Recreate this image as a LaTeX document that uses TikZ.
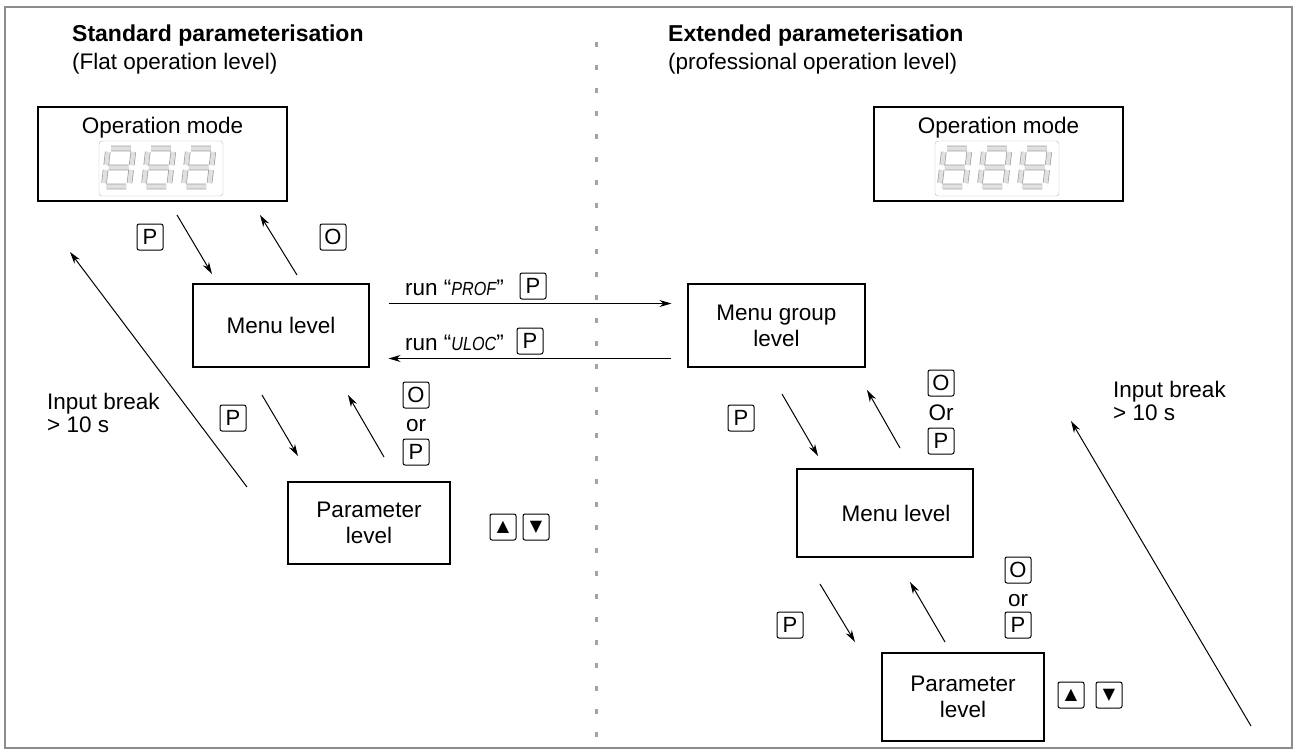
\documentclass[tikz,border=0pt]{standalone}
\usepackage{fontspec}
\setmainfont{Liberation Sans}
\newfontfamily\symfont{DejaVu Sans}
\usepackage{tikz}
\usetikzlibrary{positioning, calc, arrows.meta}
\definecolor{framegray}{rgb}{0.55, 0.55, 0.55}
\definecolor{seggray}{rgb}{0.62, 0.62, 0.62}
\definecolor{segfill}{rgb}{0.88, 0.88, 0.88}

%% one digit of the display
\newcommand{\segdigit}[2]{%
	\begin{scope}[shift={(#1,#2)}, xslant=0.12]
		\draw[seggray, line width=0.7pt, double=segfill, double distance=4.2pt]
			(5.5,2.5) -- (25,2.5) (5.5,21.5) -- (25,21.5) (5.5,40.5) -- (25,40.5)
			(2.5,6) -- (2.5,19) (2.5,24) -- (2.5,37)
			(28,6) -- (28,19) (28,24) -- (28,37);
	\end{scope}}
%% display code as printed by the device
\newcommand{\devcode}[1]{\scalebox{0.85}[1]{\itshape\fontsize{19}{19}\selectfont #1}}

\begin{document}
\begin{tikzpicture}[x=1pt, y=-1pt, every node/.style={inner sep=0pt}]
	\tikzstyle{levelbox}=[draw=black, line width=1.1pt, align=center, font=\fontsize{22.5}{26}\selectfont]
	\tikzstyle{keybox}=[draw=black, line width=1pt, rounded corners=2pt, minimum width=26pt, minimum height=26pt, font=\fontsize{22}{22}\selectfont]
	\tikzstyle{flow}=[-{Stealth[length=12pt, width=7pt]}, line width=1pt]
	\tikzstyle{lbl}=[font=\fontsize{22.5}{24}\selectfont, align=left]

	\useasboundingbox (0,0) rectangle (1298,752);
	\draw[framegray, line width=1.5pt] (5,7) rectangle (1292,748);

	%% headings
	\node[anchor=base west, font=\bfseries\fontsize{23}{26}\selectfont] (stdT) at (72,42) {Standard parameterisation};
	\node[anchor=base west, font=\fontsize{22.5}{24}\selectfont] (stdS) at (72,70) {(Flat operation level)};
	\node[anchor=base west, font=\bfseries\fontsize{23}{26}\selectfont] (extT) at (668,42) {Extended parameterisation};
	\node[anchor=base west, font=\fontsize{22.5}{24}\selectfont] (extS) at (668,70) {(professional operation level)};

	%% separator
	\draw[framegray!80, line width=3pt, dash pattern=on 5pt off 18pt] (596,42) -- (596,748);

	%% standard side
	\node[levelbox, minimum width=249pt, minimum height=94pt] (opL) at (162.5,154) {};
	\node[anchor=base, font=\fontsize{22.5}{25}\selectfont] (opLt) at (162.5,133) {Operation mode};
	\draw[seggray!70, rounded corners=3pt] (99,141) rectangle (223,196);
	\segdigit{106}{146}
	\segdigit{146}{146}
	\segdigit{186}{146}

	\node[levelbox, minimum width=176pt, minimum height=83pt] (menuL) at (281,325.5) {Menu level};
	\node[levelbox, minimum width=162pt, minimum height=82pt] (parL) at (369,523) {Parameter\\level};

	\node[keybox] (kP1) at (150,237) {P};
	\node[keybox] (kO1) at (333,237) {O};
	\draw[flow] (177,215) coordinate (d1s) -- (212,274) coordinate (d1e);
	\draw[flow] (297,275) coordinate (u1s) -- (260,215) coordinate (u1e);

	\node[keybox] (kP2) at (233,418) {P};
	\node[keybox] (kO2) at (416,395) {O};
	\node[lbl, anchor=base] (orL) at (416,431) {or};
	\node[keybox] (kP3) at (416,452) {P};
	\draw[flow] (262,395) coordinate (d2s) -- (298,456) coordinate (d2e);
	\draw[flow] (384,457) coordinate (u2s) -- (348,395) coordinate (u2e);

	\node[keybox] (upL) at (503,527) {\symfont\fontsize{16}{16}\selectfont ▲};
	\node[keybox, right=6pt of upL] (dnL) {\symfont\fontsize{16}{16}\selectfont ▼};

	\draw[flow] (247,487) coordinate (brkLs) -- (70,252) coordinate (brkLe);
	\node[lbl, anchor=base west] (brkL) at (47,432) {Input break\\[-1pt]> 10 s};

	%% level change
	\node[levelbox, minimum width=177pt, minimum height=83pt] (grpR) at (776.5,325.5) {Menu group\\level};
	\draw[flow] ($(menuL.east)+(19,-22)$) -- ($(grpR.west)+(-16,-22)$);
	\draw[flow] ($(grpR.west)+(-16,33)$) -- ($(menuL.east)+(19,33)$);
	\node[lbl, anchor=base west] (runA) at (405,295) {run “\devcode{PROF}”};
	\node[keybox] (kPa) at (533,286) {P};
	\node[lbl, anchor=base west] (runB) at (405,350) {run “\devcode{ULOC}”};
	\node[keybox] (kPb) at (530,341) {P};

	%% extended side
	\node[levelbox, minimum width=249pt, minimum height=94pt] (opR) at (998.5,154) {};
	\node[anchor=base, font=\fontsize{22.5}{25}\selectfont] (opRt) at (998.5,133) {Operation mode};
	\draw[seggray!70, rounded corners=3pt] (935,141) rectangle (1059,196);
	\segdigit{942}{146}
	\segdigit{982}{146}
	\segdigit{1022}{146}

	\node[keybox] (kP4) at (741,418) {P};
	\node[keybox] (kO3) at (941,383) {O};
	\node[lbl, anchor=base] (orR) at (941,420) {Or};
	\node[keybox] (kP5) at (941,441) {P};
	\draw[flow] (782,394) coordinate (d3s) -- (818,456) coordinate (d3e);
	\draw[flow] (900,448) coordinate (u3s) -- (867,390) coordinate (u3e);

	\node[levelbox, minimum width=176pt, minimum height=88pt] (menuR) at (885,513) {\hspace*{22pt}Menu level};

	\node[keybox] (kP6) at (790,625) {P};
	\node[keybox] (kO4) at (1018,570) {O};
	\node[lbl, anchor=base] (orR2) at (1018,606) {or};
	\node[keybox] (kP7) at (1018,625) {P};
	\draw[flow] (820,584) coordinate (d4s) -- (855,642) coordinate (d4e);
	\draw[flow] (945,642) coordinate (u4s) -- (910,582) coordinate (u4e);

	\node[levelbox, minimum width=162pt, minimum height=88pt] (parR) at (963,697) {Parameter\\level};
	\node[keybox] (upR) at (1071,695) {\symfont\fontsize{16}{16}\selectfont ▲};
	\node[keybox, right=11pt of upR] (dnR) {\symfont\fontsize{16}{16}\selectfont ▼};

	\draw[flow] (1251,726) coordinate (brkRs) -- (1071,421) coordinate (brkRe);
	\node[lbl, anchor=base west] (brkR) at (1113,420) {Input break\\[-1pt]> 10 s};
\end{tikzpicture}
\end{document}
